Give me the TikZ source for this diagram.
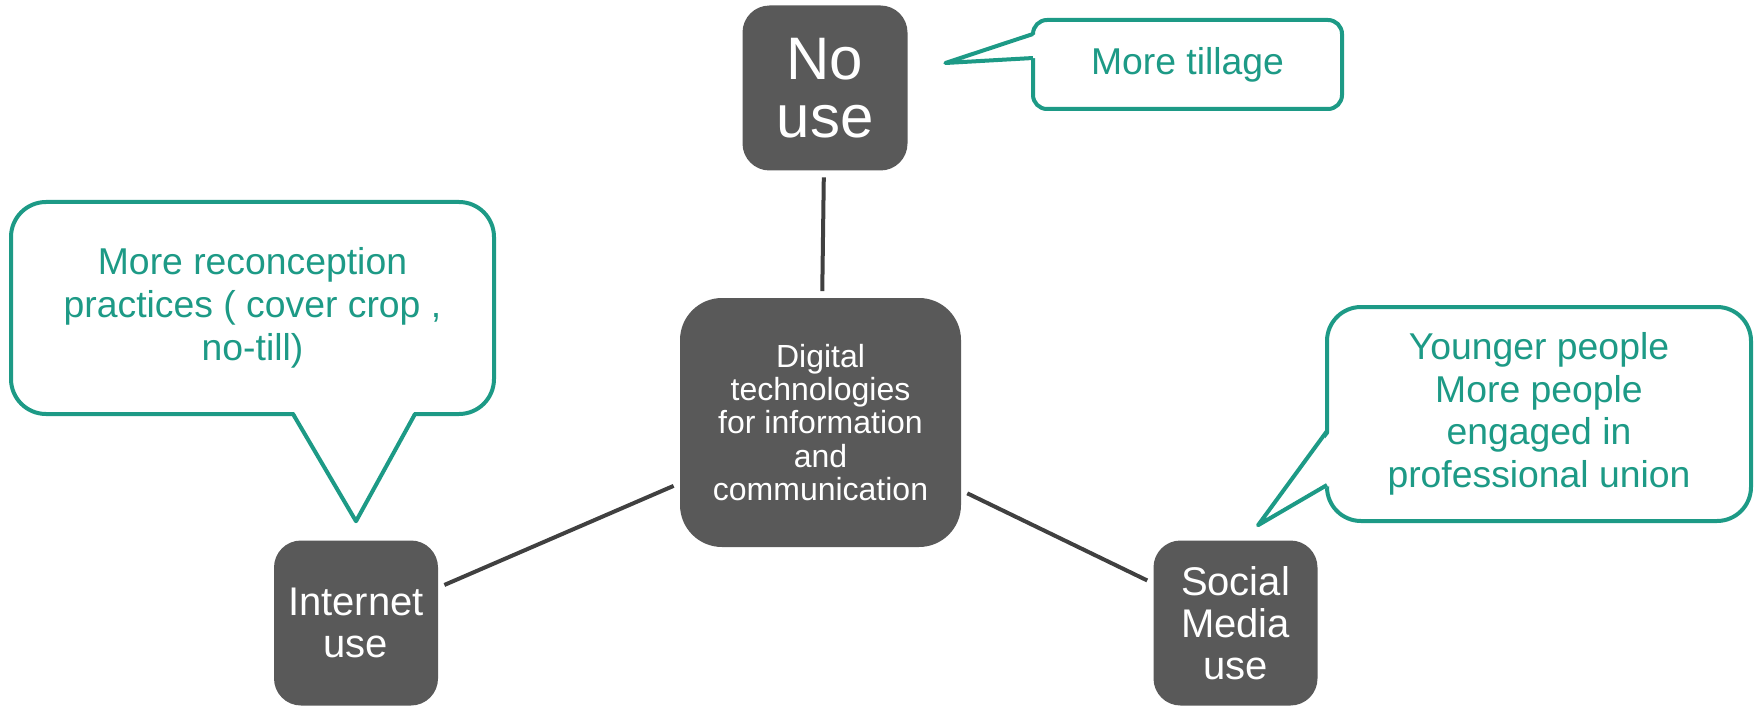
\documentclass[tikz,border=0pt]{standalone}
\usepackage{fontspec}
\setmainfont{Liberation Sans}
\usepackage{tikz}

\definecolor{boxgray}{RGB}{89,89,89}
\definecolor{linkgray}{RGB}{64,64,64}
\definecolor{noteteal}{RGB}{29,154,134}

\tikzset{
  topic/.style={fill=boxgray, text=white, rounded corners=20.25pt, align=center,
    inner sep=0pt, minimum width=123pt, minimum height=123.75pt},
  link/.style={draw=linkgray, line width=3pt, shorten <=5pt, shorten >=5pt},
  noteline/.style={draw=noteteal, line width=3pt, line join=round},
  note/.style={noteline, fill=white, text=noteteal, align=center, inner sep=0pt, outer sep=0pt,
    font=\fontsize{28}{32}\selectfont},
}

\begin{document}
\begin{tikzpicture}[x=0.75pt,y=0.75pt,yscale=-1,xscale=1]
\path[use as bounding box] (0,0) rectangle (1756,706);

%Shape: Rounded Rect (topics)
\node[topic, font=\fontsize{45}{44}\selectfont, minimum width=123.75pt] (nouse) at (825,88) {No\\use};
\node[topic, font=\fontsize{24}{25}\selectfont, minimum width=210.75pt, minimum height=186.75pt,
  rounded corners=31.5pt] (dtic) at (820.5,422.5) {Digital\\technologies\\for information\\and\\communication};
\node[topic, font=\fontsize{30}{31.5}\selectfont] (inet) at (356,623) {Internet\\use};
\node[topic, font=\fontsize{30}{31.5}\selectfont] (social) at (1235.5,623) {Social\\Media\\use};

%Straight Lines
\draw[link] (nouse) -- (dtic);
\draw[link] (inet) -- (dtic);
\draw[link] (dtic) -- (social);

% pointer tips
\coordinate (tilltip) at ([xshift=28.2pt,yshift=-18.75pt]nouse.east);
\coordinate (rectip) at ([yshift=-14.25pt]inet.north);
\coordinate (youtip) at ([xshift=16.9pt,yshift=-11.25pt]social.north);

% Text Node (callouts)
\node[note, minimum width=231.75pt, minimum height=66.75pt, rounded corners=10.5pt]
  (tillnote) at (1187.5,64.5) {More tillage};
\node[note, minimum width=362.25pt, minimum height=159pt, rounded corners=26.25pt]
  (recnote) at (252.5,308) {More reconception\\practices ( cover crop ,\\no-till)};
\node[note, minimum width=318pt, minimum height=160.5pt, rounded corners=25.5pt]
  (younote) at (1539,414) {Younger people\\More people\\engaged in\\professional union};

%Shape: Callout pointers
\fill[white] (1037,34) -- (tilltip) -- (1037,58) -- cycle;
\draw[noteline] (1033,34) -- (tilltip) -- (1033,58);
\fill[white] (293,410) -- (rectip) -- (415,410) -- cycle;
\draw[noteline] (293,414) -- (rectip) -- (415,414);
\fill[white] (1331,431) -- (youtip) -- (1331,485) -- cycle;
\draw[noteline] (1327,431) -- (youtip) -- (1327,485);

\end{tikzpicture}
\end{document}
